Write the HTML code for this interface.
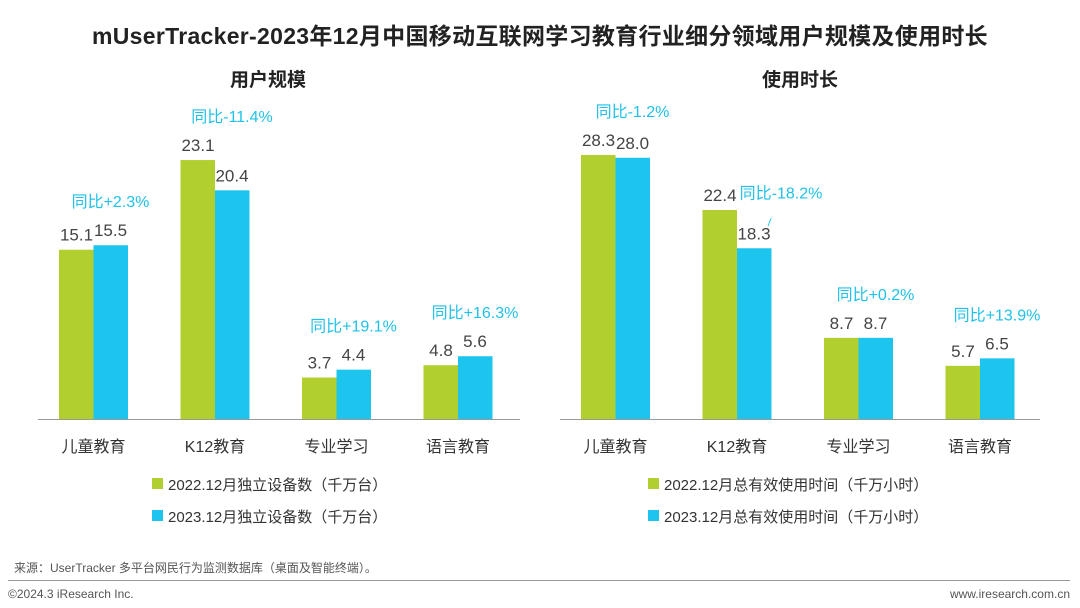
<!DOCTYPE html>
<html><head><meta charset="utf-8">
<style>
body{margin:0;width:1080px;height:608px;background:#fff;font-family:"Liberation Sans","Noto Sans CJK SC",sans-serif;overflow:hidden;position:relative}
.t{position:absolute;white-space:nowrap}
</style></head><body>
<div class="t" style="left:0;width:1080px;text-align:center;top:17px;font-size:23px;letter-spacing:0.3px;font-weight:bold;color:#222">mUserTracker-2023年12月中国移动互联网学习教育行业细分领域用户规模及使用时长</div>
<svg id="c" width="1080" height="608" style="position:absolute;left:0;top:0"></svg>
<div class="t" style="left:14px;top:559px;font-size:12px;color:#555">来源：UserTracker 多平台网民行为监测数据库（桌面及智能终端）。</div>
<div style="position:absolute;left:8px;top:580px;width:1062px;height:1px;background:#999"></div>
<div class="t" style="left:8px;top:587px;font-size:12px;color:#555">©2024.3 iResearch Inc.</div>
<div class="t" style="right:10px;top:587px;font-size:12px;color:#555">www.iresearch.com.cn</div>
<script>
const categories=["儿童教育","K12教育","专业学习","语言教育"];
const users2022=[15.1,23.1,3.7,4.8];
const users2023=[15.5,20.4,4.4,5.6];
const usersYoY=["同比+2.3%","同比-11.4%","同比+19.1%","同比+16.3%"];
const time2022=[28.3,22.4,8.7,5.7];
const time2023=[28.0,18.3,8.7,6.5];
const timeYoY=["同比-1.2%","同比-18.2%","同比+0.2%","同比+13.9%"];
const svg=document.getElementById('c');const NS='http://www.w3.org/2000/svg';
function mk(t,a,txt){const e=document.createElementNS(NS,t);for(const k in a)e.setAttribute(k,a[k]);if(txt!=null)e.textContent=txt;svg.appendChild(e);return e;}
function chart(o){
 const base=419,scale=v=>v*o.k,cx=i=>o.x0+i*121.5;
 const st=mk('text',{x:o.tx,y:86,'text-anchor':'middle','font-size':19,'font-weight':'bold',fill:'#222'},o.title);
 
 const ax=mk('line',{x1:o.ax1,x2:o.ax2,y1:base+0.5,y2:base+0.5,stroke:'#999','stroke-width':1});
 
 categories.forEach((c,i)=>{
  const x=cx(i),h1=scale(o.a[i]),h2=scale(o.b[i]);
  const r1=mk('rect',{x:x-34.5,y:base-h1,width:34.5,height:h1,fill:'#b1cf2f'});
  
  const r2=mk('rect',{x:x,y:base-h2,width:34.5,height:h2,fill:'#1dc5ee'});
  
  const l1=mk('text',{x:x-17,y:base-h1-9,'text-anchor':'middle','font-size':17,fill:'#444'},o.a[i].toFixed(1));
  
  const l2=mk('text',{x:x+17,y:base-h2-9,'text-anchor':'middle','font-size':17,fill:'#444'},o.b[i].toFixed(1));
  
  let ay=base-Math.max(h1,h2)-38,axp=x+17;
  if(o.id==='time'&&i===1){ay=base-h2-50;axp=x+44;
   const s=mk('line',{x1:x+31,y1:base-h2-22,x2:x+34,y2:base-h2-30,stroke:'#1dc5ee','stroke-width':1});
   }
  const yy=mk('text',{x:axp,y:ay,'text-anchor':'middle','font-size':16,fill:'#1fc1e8'},o.y[i]);
  
  const cl=mk('text',{x:x,y:452,'text-anchor':'middle','font-size':16,fill:'#333'},c);
  
 });
 [[o.l1,'#b1cf2f',484],[o.l2,'#1dc5ee',516]].forEach(([t,col,y])=>{
  const sq=mk('rect',{x:o.lx,y:y-6,width:11,height:11,fill:col});
  
  const lt=mk('text',{x:o.lx+16,y:y+6,'font-size':15,fill:'#333'},t);
  
 });
}
chart({id:'users',title:'用户规模',tx:268,x0:93.5,k:11.21,ax1:38,ax2:520,a:users2022,b:users2023,y:usersYoY,lx:152,l1:'2022.12月独立设备数（千万台）',l2:'2023.12月独立设备数（千万台）'});
chart({id:'time',title:'使用时长',tx:800,x0:615.5,k:9.33,ax1:560,ax2:1040,a:time2022,b:time2023,y:timeYoY,lx:648,l1:'2022.12月总有效使用时间（千万小时）',l2:'2023.12月总有效使用时间（千万小时）'});
</script>
</body></html>
